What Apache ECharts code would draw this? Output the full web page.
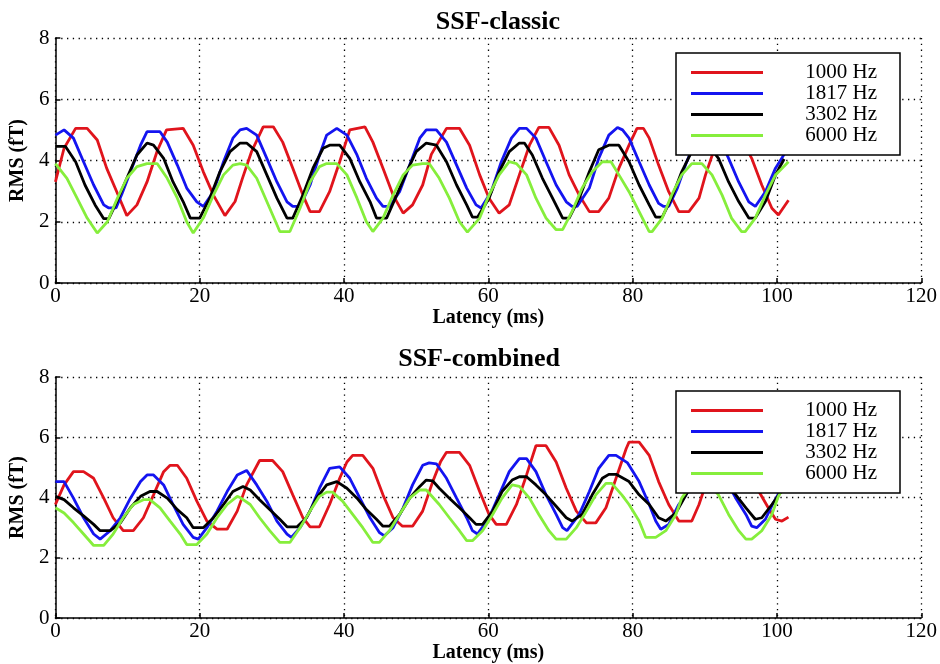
<!DOCTYPE html>
<html>
<head>
<meta charset="utf-8">
<script src="https://cdn.jsdelivr.net/npm/echarts@6/dist/echarts.min.js"></script>
<style>html,body{margin:0;padding:0;background:#fff}#c{width:940px;height:664px}</style>
</head>
<body>
<div id="c"></div>
<script>
var seriesNames = ['1000 Hz', '1817 Hz', '3302 Hz', '6000 Hz'];
var xTicks = [0, 20, 40, 60, 80, 100, 120];
var yTicks = [0, 2, 4, 6, 8];

var classic1000 = [[0,3.3],[1.2,4.4],[2.8,5.05],[4.4,5.05],[5.8,4.67],[7.1,3.75],[8.5,2.98],[9.9,2.2],[11.3,2.55],[12.7,3.3],[14.1,4.3],[15.4,5.0],[17.7,5.05],[19.1,4.5],[20.5,3.63],[21.9,2.87],[23.5,2.2],[24.9,2.66],[25.9,3.4],[27.2,4.3],[28.8,5.1],[30.2,5.1],[31.5,4.6],[32.9,3.75],[34.3,2.87],[35.3,2.33],[36.6,2.33],[38,2.98],[39.4,3.96],[40.8,5.0],[42.9,5.1],[44,4.6],[45.4,3.75],[46.8,2.87],[48.2,2.28],[49.5,2.55],[50.9,3.2],[52.1,4.2],[54.2,5.05],[56,5.05],[57.4,4.5],[58.8,3.53],[60.1,2.77],[61.5,2.28],[62.9,2.55],[64.3,3.53],[65.7,4.5],[67,5.08],[68.4,5.08],[69.8,4.5],[71.2,3.53],[72.6,2.87],[74,2.33],[75.3,2.33],[76.7,2.77],[78.1,3.75],[79.5,4.5],[80.6,5.05],[81.5,5.05],[82.3,4.73],[83.6,3.85],[85,2.98],[86.4,2.33],[87.8,2.33],[89.2,2.77],[90.1,3.53],[91.5,4.5],[93,5.05],[94.3,5.05],[95.3,4.6],[96.5,4.07],[97.9,3.2],[99.3,2.44],[100.2,2.22],[101.6,2.7]];
var classic1817 = [[0,4.83],[1.2,5.0],[2.5,4.73],[3.9,3.96],[5.3,3.2],[6.7,2.55],[7.4,2.45],[8.4,2.45],[9.2,2.9],[10.4,3.63],[11.8,4.5],[12.7,4.94],[14.5,4.94],[15.5,4.6],[16.9,3.85],[18.2,3.1],[19.6,2.65],[20.5,2.5],[21.9,2.98],[23.3,3.96],[24.6,4.73],[25.6,5.0],[26.5,5.05],[27.9,4.83],[29.3,4.07],[30.7,3.3],[32.1,2.65],[32.9,2.5],[33.9,2.5],[35.3,3.2],[36.6,4.18],[37.6,4.83],[39,5.05],[40.4,4.83],[41.8,4.18],[43.1,3.42],[44.5,2.77],[45.4,2.5],[46.3,2.5],[47.7,2.98],[49.1,3.85],[50.5,4.73],[51.4,5.0],[52.8,5.0],[54.2,4.6],[55.6,3.85],[57,3.1],[58.3,2.55],[59,2.45],[60.4,2.98],[61.8,3.96],[63.2,4.73],[64.3,5.05],[65.3,5.05],[66.6,4.73],[68,3.96],[69.4,3.2],[70.8,2.65],[71.6,2.5],[72.3,2.5],[74,3.1],[75.3,4.07],[76.7,4.83],[77.9,5.08],[78.6,5.0],[79.5,4.73],[80.9,3.96],[82.3,3.2],[83.6,2.6],[84.3,2.5],[85,2.5],[86.2,3.1],[87.4,3.9],[88.8,4.7],[90.2,5.05],[91.2,5.0],[92.3,4.6],[93.3,4.07],[94.7,3.3],[96.1,2.65],[97,2.5],[98.4,2.98],[99.8,3.75],[101,4.2]];
var classic3302 = [[0,4.46],[1.4,4.46],[2.8,3.96],[4.1,3.2],[5.5,2.55],[6.7,2.1],[7.4,2.1],[8.6,2.7],[9.9,3.42],[11.3,4.18],[12.7,4.57],[13.6,4.5],[15,4.07],[16.3,3.3],[17.7,2.66],[18.7,2.12],[20,2.12],[21.4,2.77],[22.8,3.63],[24.2,4.29],[25.6,4.57],[26.5,4.57],[27.9,4.29],[29.3,3.53],[30.7,2.77],[32.1,2.12],[32.9,2.12],[34.3,2.87],[35.7,3.75],[37.1,4.4],[38,4.5],[39.4,4.5],[40.8,4.07],[42.2,3.3],[43.6,2.66],[44.5,2.12],[45.9,2.12],[47.3,2.87],[48.7,3.63],[50,4.29],[51.4,4.57],[52.8,4.5],[54.2,3.96],[55.6,3.2],[57,2.55],[57.8,2.15],[58.5,2.15],[60.1,2.77],[61.5,3.63],[62.9,4.29],[64.3,4.57],[65,4.57],[66.1,4.18],[67.5,3.42],[68.9,2.77],[70.3,2.12],[71.2,2.12],[72.6,2.77],[74,3.63],[75.3,4.35],[76.7,4.5],[78.1,4.5],[79.5,3.96],[80.9,3.2],[82.3,2.55],[83.2,2.15],[84.1,2.15],[85.4,2.77],[86.8,3.63],[88.2,4.3],[89.3,4.5],[90.5,4.5],[91.9,4.07],[93.3,3.3],[94.7,2.66],[96.1,2.12],[97,2.12],[98.4,2.66],[99.8,3.53],[101,4.05]];
var classic6000 = [[0,3.9],[1.6,3.42],[3,2.77],[4.4,2.12],[5.8,1.63],[7.2,2.0],[8.6,2.77],[9.9,3.42],[11.3,3.8],[12.7,3.9],[14.1,3.9],[15.5,3.42],[16.9,2.77],[18.2,2.0],[19.1,1.63],[20.5,2.12],[21.9,2.87],[23.3,3.53],[24.6,3.85],[25.6,3.9],[26.5,3.85],[27.9,3.42],[29.3,2.66],[30.7,1.9],[31.1,1.68],[32.5,1.68],[33.9,2.44],[35.3,3.3],[36.6,3.8],[37.6,3.9],[39,3.9],[40.4,3.53],[41.8,2.77],[43.1,2.0],[44,1.68],[45.4,2.12],[46.8,2.87],[48.2,3.53],[49.5,3.85],[50.9,3.9],[51.8,3.9],[53.2,3.42],[54.6,2.77],[56,2.0],[57.1,1.66],[58.8,2.12],[60.1,2.87],[61.5,3.53],[62.9,3.96],[63.9,3.9],[65.3,3.53],[66.6,2.77],[68,2.12],[69.4,1.74],[70.3,1.74],[71.6,2.33],[73,3.1],[74.4,3.63],[75.8,3.96],[77,3.96],[78.1,3.53],[79.5,2.98],[80.9,2.33],[82.3,1.68],[82.7,1.68],[84.1,2.12],[85.4,2.87],[86.8,3.53],[88.2,3.9],[89.6,3.9],[91,3.53],[92.4,2.87],[93.7,2.12],[95.1,1.68],[95.6,1.68],[97,2.12],[98.4,2.87],[99.8,3.53],[101.6,3.96]];

var combined1000 = [[0,3.77],[1.2,4.42],[2.5,4.86],[3.9,4.86],[5.3,4.64],[6.7,3.98],[8,3.33],[9.4,2.9],[10.8,2.9],[12.2,3.33],[13.6,4.09],[15,4.86],[15.9,5.07],[16.9,5.07],[18.2,4.64],[19.6,3.88],[21,3.22],[22.4,2.95],[23.8,2.95],[25.2,3.55],[26.5,4.42],[28.3,5.23],[30.1,5.23],[31.5,4.86],[32.9,4.09],[34.3,3.33],[35.3,3.03],[36.6,3.03],[38,3.77],[39.4,4.64],[40.4,5.18],[41.2,5.4],[42.6,5.4],[44,4.97],[45.4,4.09],[46.8,3.33],[48.1,3.05],[49.5,3.05],[50.9,3.55],[52.3,4.53],[53.4,5.2],[54.2,5.5],[56,5.5],[57.4,5.07],[58.8,4.2],[60.1,3.44],[61.1,3.11],[62.5,3.11],[63.9,3.77],[65.3,4.75],[66.6,5.72],[68,5.72],[69.4,5.18],[70.8,4.31],[72.2,3.55],[73.6,3.16],[74.9,3.16],[76.3,3.66],[77.7,4.64],[79.1,5.62],[79.5,5.84],[80.9,5.84],[82.3,5.4],[83.6,4.53],[85,3.77],[86.4,3.22],[88.2,3.22],[89.2,3.77],[90.5,4.7],[91.8,5.6],[92.6,5.9],[94.6,5.9],[96,5.1],[97.5,4.2],[98.8,3.66],[99.8,3.28],[100.7,3.22],[101.6,3.35]];
var combined1817 = [[0,4.53],[1.2,4.53],[2.5,3.98],[3.9,3.33],[5.3,2.79],[6.2,2.62],[7.6,2.9],[9,3.33],[10.4,3.98],[11.8,4.53],[12.7,4.75],[13.6,4.75],[15,4.42],[16.3,3.77],[17.7,3.11],[19.1,2.68],[19.8,2.62],[21,3.0],[22.4,3.55],[23.8,4.2],[25.2,4.75],[26.5,4.9],[27.9,4.42],[29.3,3.88],[30.7,3.22],[32.1,2.79],[32.7,2.68],[33.9,3.0],[35.3,3.55],[36.6,4.31],[38,4.97],[39.4,5.02],[40.8,4.64],[42.2,3.98],[43.6,3.33],[44.9,2.84],[45.6,2.73],[46.8,3.0],[48.2,3.66],[49.5,4.42],[50.9,5.07],[51.8,5.15],[52.8,5.12],[54.2,4.64],[55.6,3.98],[57,3.33],[57.8,2.9],[58.5,2.79],[60.1,3.33],[61.5,4.09],[62.9,4.86],[64.3,5.29],[65.3,5.29],[66.6,4.86],[68,4.09],[69.4,3.44],[70.3,3.0],[70.9,2.9],[72.6,3.44],[74,4.2],[75.3,4.97],[76.7,5.4],[77.7,5.4],[79.3,5.15],[80.9,4.53],[82.3,3.77],[83.2,3.22],[83.9,2.95],[85,3.11],[86.4,3.77],[87.4,4.09],[88.8,4.9],[90.2,5.4],[91.2,5.4],[92.6,4.7],[94.3,3.98],[95.7,3.44],[96.5,3.05],[97.2,3.0],[98.4,3.28],[99.5,3.82],[100.4,4.2]];
var combined3302 = [[0,4.04],[1.2,3.93],[2.5,3.66],[3.9,3.39],[5.3,3.11],[6.2,2.9],[7.6,2.9],[9,3.16],[10.4,3.66],[11.8,4.04],[13.1,4.2],[14.1,4.2],[15.5,3.98],[16.9,3.6],[18.2,3.33],[19.1,3.0],[20.5,3.0],[21.9,3.33],[23.3,3.77],[24.6,4.2],[26,4.37],[27,4.25],[28.3,3.93],[29.7,3.6],[31.1,3.28],[32.1,3.03],[33.5,3.03],[34.8,3.33],[36.2,3.98],[37.6,4.42],[39,4.53],[40.4,4.31],[41.8,3.98],[43.1,3.6],[44.5,3.28],[45.4,3.05],[46.3,3.05],[47.7,3.44],[49.1,3.98],[50.5,4.37],[51.4,4.58],[52.3,4.55],[53.2,4.31],[54.6,3.98],[56,3.66],[57.4,3.33],[58.3,3.11],[59.2,3.11],[60.6,3.55],[61.9,4.2],[63.3,4.58],[64.3,4.69],[65.3,4.69],[66.6,4.42],[68,4.09],[69.4,3.71],[70.8,3.33],[71.6,3.22],[73,3.44],[74.4,4.09],[75.8,4.64],[76.7,4.77],[77.7,4.77],[79.5,4.53],[80.9,4.09],[82.3,3.77],[83.6,3.33],[84.6,3.22],[86,3.49],[87.4,4.09],[88.8,4.6],[89.8,4.8],[90.8,4.8],[92.5,4.5],[94.3,4.09],[95.7,3.66],[97,3.28],[97.9,3.33],[99.3,3.77],[100.6,4.2]];
var combined6000 = [[0,3.66],[1.2,3.49],[2.5,3.17],[3.9,2.79],[5.3,2.41],[6.7,2.41],[8,2.79],[9.4,3.33],[10.8,3.77],[12.2,3.93],[13.1,3.93],[14.5,3.66],[15.9,3.22],[17.3,2.79],[18.2,2.44],[19.6,2.44],[21,2.79],[22.4,3.33],[23.8,3.77],[25.2,4.04],[25.6,4.0],[27,3.77],[28.3,3.33],[29.7,2.9],[31.1,2.51],[32.5,2.51],[33.9,3.0],[35.3,3.55],[36.6,4.04],[37.6,4.18],[38.4,4.18],[39.8,3.88],[41.2,3.44],[42.6,3.0],[44,2.51],[44.9,2.51],[46.3,2.9],[47.7,3.44],[49.1,3.98],[50.5,4.25],[51.4,4.25],[53.2,3.77],[54.6,3.33],[56,2.9],[57,2.57],[57.8,2.57],[59.2,2.9],[60.6,3.44],[61.9,3.98],[63.3,4.42],[64.3,4.37],[65.7,3.98],[67,3.44],[68.4,2.9],[69.4,2.62],[70.8,2.62],[72.2,3.0],[73.6,3.55],[74.9,4.09],[76.3,4.47],[77.1,4.47],[78.5,4.09],[79.5,3.77],[80.9,3.22],[81.8,2.68],[83.2,2.68],[84.6,2.9],[86,3.44],[86.8,3.98],[88.2,4.45],[89.4,4.5],[90.6,4.45],[91.9,4.09],[93.3,3.44],[94.7,2.9],[95.7,2.62],[96.5,2.62],[97.9,2.9],[99.3,3.44],[100.2,4.04],[100.6,4.2]];

var colors = ['#e0141c', '#1414f0', '#000000', '#86ee3c'];
var FONT = 'Liberation Serif';

function xAxis(gi) {
  return {
    type: 'value', gridIndex: gi, min: xTicks[0], max: xTicks[xTicks.length - 1], interval: xTicks[1] - xTicks[0],
    name: 'Latency (ms)', nameLocation: 'middle', nameGap: 23,
    nameTextStyle: { fontFamily: FONT, fontWeight: 'bold', fontSize: 20, color: '#000' },
    axisLine: { show: true, onZero: false, lineStyle: { color: '#000', width: 1.5 } },
    axisTick: { show: true, inside: true, length: 5, lineStyle: { color: '#000', width: 1.5 } },
    axisLabel: { margin: 3, fontFamily: FONT, fontSize: 21, color: '#000' },
    splitLine: { show: true, lineStyle: { color: '#000', width: 1.3, type: [1.3, 4.5] } }
  };
}
function yAxis(gi) {
  return {
    type: 'value', gridIndex: gi, min: yTicks[0], max: yTicks[yTicks.length - 1], interval: yTicks[1] - yTicks[0],
    name: 'RMS (fT)', nameLocation: 'middle', nameGap: 24,
    nameTextStyle: { fontFamily: FONT, fontWeight: 'bold', fontSize: 20, color: '#000' },
    axisLine: { show: true, lineStyle: { color: '#000', width: 1.5 } },
    axisTick: { show: true, inside: true, length: 5, lineStyle: { color: '#000', width: 1.5 } },
    axisLabel: { margin: 6, fontFamily: FONT, fontSize: 21, color: '#000' },
    splitLine: { show: true, lineStyle: { color: '#000', width: 1.3, type: [1.3, 4.5] } }
  };
}
function legend(top) {
  return {
    data: seriesNames, orient: 'vertical', left: 676, top: top,
    icon: 'rect', itemWidth: 72, itemHeight: 3, itemGap: 0,
    padding: [9, 23, 9, 15],
    backgroundColor: '#fff', borderColor: '#000', borderWidth: 1.5, borderRadius: 0,
    selectedMode: false,
    formatter: function (n) { return '{a|' + n + '}'; },
    textStyle: { rich: { a: { width: 109, align: 'right', fontFamily: FONT, fontSize: 21, lineHeight: 21, color: '#000' } } }
  };
}
function line(name, data, gi, ci) {
  return {
    type: 'line', name: name, data: data, xAxisIndex: gi, yAxisIndex: gi,
    showSymbol: false, symbol: 'none', animation: false,
    lineStyle: { color: colors[ci], width: 2.8 }, itemStyle: { color: colors[ci] }
  };
}

var chart = echarts.init(document.getElementById('c'), null, { renderer: 'canvas' });
chart.setOption({
  animation: false,
  backgroundColor: '#fff',
  title: [
    { text: 'SSF-classic', right: 375, top: 4, textStyle: { fontFamily: FONT, fontWeight: 'bold', fontSize: 26, color: '#000' } },
    { text: 'SSF-combined', right: 375, top: 341, textStyle: { fontFamily: FONT, fontWeight: 'bold', fontSize: 26, color: '#000' } }
  ],
  grid: [
    { left: 55, right: 17, top: 38, height: 245 },
    { left: 55, right: 17, top: 377, height: 245 }
  ],
  xAxis: [xAxis(0), xAxis(1)],
  yAxis: [yAxis(0), yAxis(1)],
  legend: [legend(53), legend(391)],
  series: [
    line(seriesNames[0], classic1000, 0, 0),
    line(seriesNames[1], classic1817, 0, 1),
    line(seriesNames[2], classic3302, 0, 2),
    line(seriesNames[3], classic6000, 0, 3),
    line(seriesNames[0], combined1000, 1, 0),
    line(seriesNames[1], combined1817, 1, 1),
    line(seriesNames[2], combined3302, 1, 2),
    line(seriesNames[3], combined6000, 1, 3)
  ]
});
</script>
</body>
</html>
